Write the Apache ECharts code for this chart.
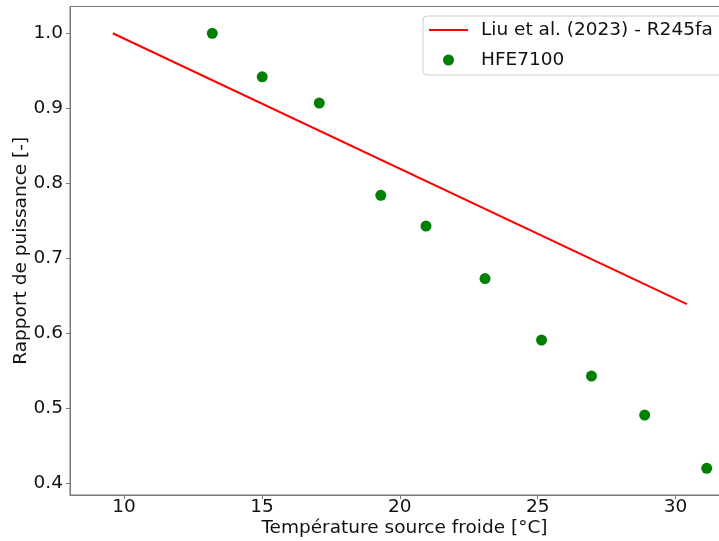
<!DOCTYPE html>
<html><head><meta charset="utf-8">
<script src="https://cdn.jsdelivr.net/npm/echarts@6/dist/echarts.min.js"></script>
<style>html,body{margin:0;padding:0;background:#fff}#c{width:719px;height:541px}</style>
</head><body><div id="c"></div>
<script>
const lineName = 'Liu et al. (2023) - R245fa';
const lineX = [9.59, 30.41];
const lineY = [1.0, 0.639];
const scatterName = 'HFE7100';
const scatterX = [13.20, 15.01, 17.08, 19.31, 20.95, 23.09, 25.14, 26.95, 28.88, 31.13];
const scatterY = [1.000, 0.942, 0.907, 0.784, 0.743, 0.673, 0.591, 0.543, 0.491, 0.420];
const xTicks = [10, 15, 20, 25, 30];
const yTicks = [0.4, 0.5, 0.6, 0.7, 0.8, 0.9, 1.0];

const font = 'DejaVu Sans';
const fs = 18.5;
const chart = echarts.init(document.getElementById('c'));
chart.setOption({
  animation: false,
  grid: {left: 70, top: 6.5, bottom: 46, right: -20, outerBoundsMode: 'none', containLabel: false,
         show: true, borderColor: '#777', borderWidth: 1, backgroundColor: 'transparent'},
  xAxis: {
    type: 'value', min: 8.04, max: 32.3,
    name: 'Température source froide [°C]', nameLocation: 'middle', nameGap: 24, nameMoveOverlap: false,
    nameTextStyle: {fontFamily: font, fontSize: fs, color: '#111'},
    axisLine: {show: true, lineStyle: {color: '#777', width: 1}},
    axisTick: {show: true, length: 4, lineStyle: {color: '#777'}, customValues: xTicks},
    axisLabel: {fontFamily: font, fontSize: fs, color: '#111', margin: 3, customValues: xTicks, formatter: v => String(v)},
    splitLine: {show: false}
  },
  yAxis: {
    type: 'value', min: 0.3844, max: 1.0357,
    name: 'Rapport de puissance [-]', nameLocation: 'middle', nameGap: 39, nameMoveOverlap: false,
    nameTextStyle: {fontFamily: font, fontSize: fs, color: '#111'},
    axisLine: {show: true, lineStyle: {color: '#777', width: 1}},
    axisTick: {show: true, length: 4, lineStyle: {color: '#777'}, customValues: yTicks},
    axisLabel: {fontFamily: font, fontSize: fs, color: '#111', margin: 7, customValues: yTicks, formatter: v => v.toFixed(1)},
    splitLine: {show: false}
  },
  legend: {
    left: 423, top: 16, orient: 'vertical',
    padding: [4, 24, 5, 6],
    backgroundColor: '#fff', borderColor: '#ccc', borderWidth: 1, borderRadius: 4,
    itemWidth: 39, itemHeight: 11, itemGap: 10, symbolKeepAspect: true,
    textStyle: {fontFamily: font, fontSize: fs, color: '#111', lineHeight: 20, padding: [0, 0, 0, 8]},
    data: [{name: lineName, icon: 'path://M0,0H40V2H0Z', itemStyle: {color: '#ff0000'}},
           {name: scatterName, icon: 'circle'}]
  },
  series: [
    {name: lineName, type: 'line', data: lineX.map((x, i) => [x, lineY[i]]), symbol: 'none', showSymbol: false,
     lineStyle: {color: '#ff0000', width: 2}, itemStyle: {color: '#ff0000'}},
    {name: scatterName, type: 'scatter', data: scatterX.map((x, i) => [x, scatterY[i]]), symbolSize: 11,
     itemStyle: {color: '#008000', opacity: 1}}
  ]
});
</script></body></html>
